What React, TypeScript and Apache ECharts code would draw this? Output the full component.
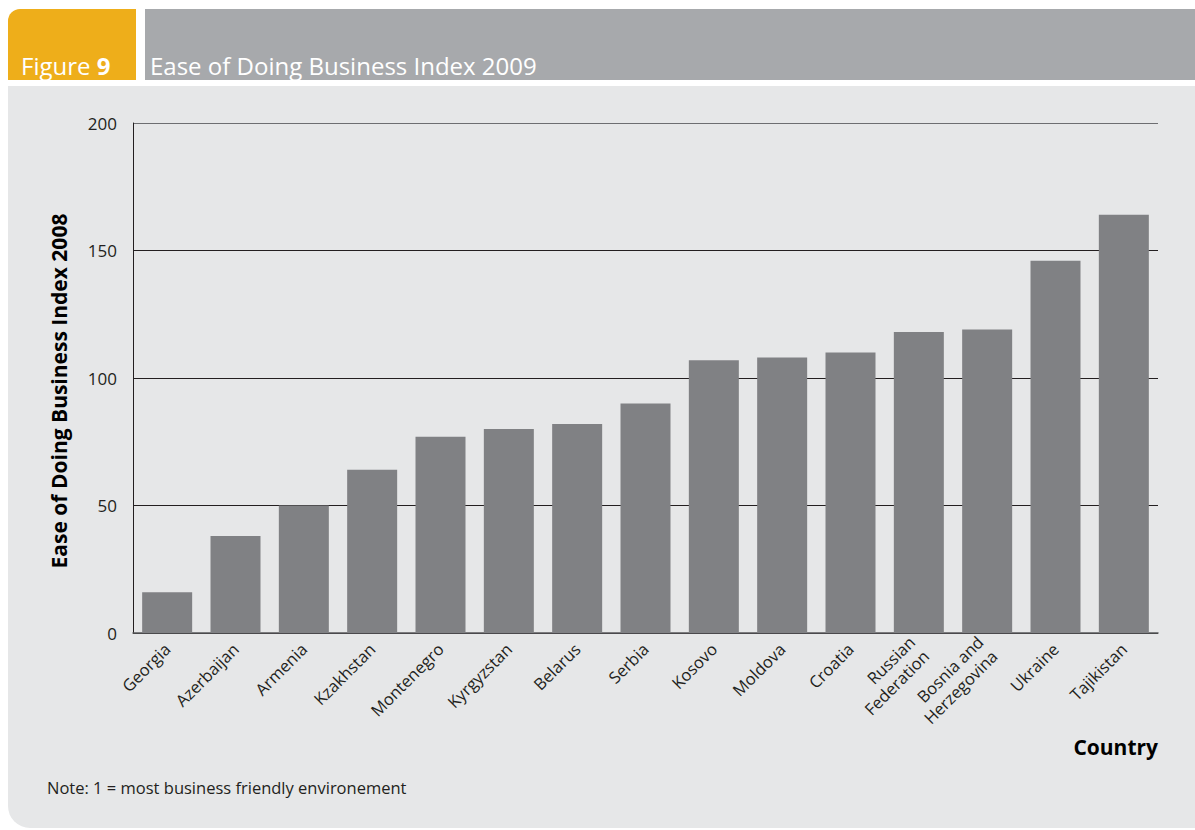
import React, { useEffect, useRef } from "react";
import * as echarts from "echarts";

const categories = [
  "Georgia",
  "Azerbaijan",
  "Armenia",
  "Kzakhstan",
  "Montenegro",
  "Kyrgyzstan",
  "Belarus",
  "Serbia",
  "Kosovo",
  "Moldova",
  "Croatia",
  "Russian\nFederation",
  "Bosnia and\nHerzegovina",
  "Ukraine",
  "Tajikistan",
];
const values = [16, 38, 50, 64, 77, 80, 82, 90, 107, 108, 110, 118, 119, 146, 164];
const yTicks = { min: 0, max: 200, interval: 50 };

const FONT = "'Open Sans', 'Noto Sans', sans-serif";

export default function App() {
  const ref = useRef<HTMLDivElement>(null);
  useEffect(() => {
    if (!ref.current) return;
    const chart = echarts.init(ref.current, null, { renderer: "svg" });
    chart.setOption({
      animation: false,
      backgroundColor: "#ffffff",
      textStyle: { fontFamily: FONT },
      graphic: [
        {
          type: "rect",
          z: -10,
          shape: { x: 8, y: 9, width: 128, height: 71, r: [12, 0, 0, 0] },
          style: { fill: "#eeae1a" },
        },
        {
          type: "rect",
          z: -10,
          shape: { x: 145, y: 9, width: 1050, height: 71 },
          style: { fill: "#a7a9ac" },
        },
        {
          type: "rect",
          z: -10,
          shape: { x: 8, y: 86, width: 1187, height: 742, r: [0, 0, 0, 22] },
          style: { fill: "#e6e7e8" },
        },
        {
          type: "text",
          z: 10,
          x: 21,
          y: 77,
          style: {
            text: "{r|Figure }{b|9}",
            textVerticalAlign: "bottom",
            rich: {
              r: { fontFamily: FONT, fontSize: 24, fill: "#ffffff", fontWeight: "normal" },
              b: { fontFamily: FONT, fontSize: 24, fill: "#ffffff", fontWeight: "bold" },
            },
          },
        },
        {
          type: "text",
          z: 10,
          x: 150,
          y: 77,
          style: {
            text: "Ease of Doing Business Index 2009",
            fontFamily: FONT,
            fontSize: 24,
            fill: "#ffffff",
            textVerticalAlign: "bottom",
          },
        },
        {
          type: "text",
          z: 10,
          x: 59,
          y: 391,
          rotation: Math.PI / 2,
          style: {
            text: "Ease of Doing Business Index 2008",
            fontFamily: FONT,
            fontSize: 21,
            fontWeight: "bold",
            fill: "#000000",
            textAlign: "center",
            textVerticalAlign: "middle",
          },
        },
        {
          type: "text",
          z: 10,
          x: 1158,
          y: 747,
          style: {
            text: "Country",
            fontFamily: FONT,
            fontSize: 21,
            fontWeight: "bold",
            fill: "#000000",
            textAlign: "right",
            textVerticalAlign: "middle",
          },
        },
        {
          type: "text",
          z: 10,
          x: 47,
          y: 787,
          style: {
            text: "Note: 1 = most business friendly environement",
            fontFamily: FONT,
            fontSize: 16.5,
            fill: "#231f20",
            textVerticalAlign: "middle",
          },
        },
      ],
      grid: { left: 133, right: 37, top: 123, bottom: 197, containLabel: false },
      xAxis: {
        type: "category",
        data: categories,
        axisTick: { show: false },
        axisLine: { show: true, lineStyle: { color: "#58595b", width: 1.5 } },
        axisLabel: {
          rotate: 45,
          interval: 0,
          fontFamily: FONT,
          fontSize: 16.5,
          color: "#231f20",
          margin: 13,
          lineHeight: 20,
        },
      },
      yAxis: {
        type: "value",
        min: yTicks.min,
        max: yTicks.max,
        interval: yTicks.interval,
        axisLine: { show: true, lineStyle: { color: "#231f20", width: 1 } },
        axisTick: { show: false },
        axisLabel: { fontFamily: FONT, fontSize: 17, color: "#231f20", margin: 16 },
        splitLine: {
          show: true,
          lineStyle: {
            color: ["#231f20", "#231f20", "#231f20", "#231f20", "#6d6e71"],
            width: 1,
          },
        },
      },
      series: [
        {
          type: "bar",
          data: values,
          barWidth: 50,
          itemStyle: { color: "#808184" },
        },
      ],
    });
    return () => chart.dispose();
  }, []);
  return (
    <div
      ref={ref}
      style={{ position: "fixed", left: 0, top: 0, width: 1195, height: 830 }}
    />
  );
}
